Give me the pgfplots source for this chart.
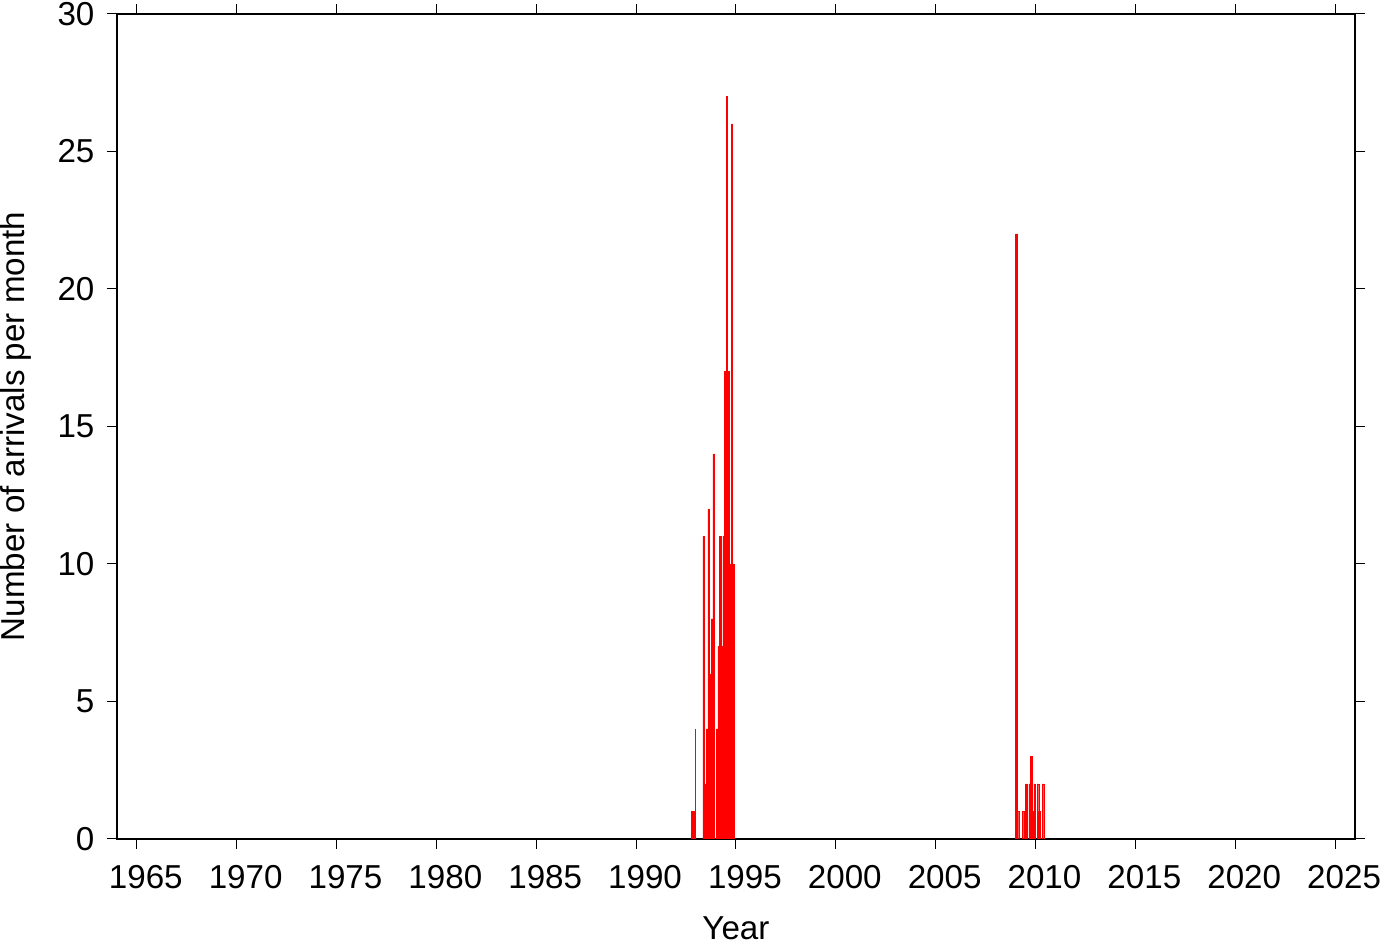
\documentclass[border=0pt]{standalone}
\usepackage{pgfplots}
\pgfplotsset{compat=1.18}
\usepackage{fontspec}
\setmainfont{Liberation Sans}
\begin{document}
\fontsize{16.6}{19}\selectfont
\begin{tikzpicture}
\begin{axis}[
  scale only axis,
  width=620pt, height=413pt,
  xmin=1964, xmax=2026, ymin=0, ymax=30,
  xtick={1965,1970,...,2025},
  ytick={0,5,...,30},
  /pgf/number format/assume math mode=true,
  xticklabel style={/pgf/number format/1000 sep={}, font=\fontsize{16.6}{19}\selectfont, yshift=-2.5pt, xshift=4.5pt},
  yticklabel style={font=\fontsize{16.6}{19}\selectfont, xshift=-0.5pt},
  tick align=outside,
  major tick length=5pt,
  tick style={line width=0.5pt, black},
  axis line style={line width=1pt},
  xlabel={Year}, ylabel={Number of arrivals per month},
  label style={font=\fontsize{16.6}{19}\selectfont},
  xlabel style={yshift=-2.8pt},
  ylabel style={yshift=2pt},
  ybar, bar width=0.07, bar shift=0pt,
]
\addplot[fill=red, draw=red, line width=0.2pt] coordinates {
(1992.7917,1) (1992.875,1)
(1993.375,11) (1993.4583,2) (1993.5417,4) (1993.625,12) (1993.7083,6) (1993.7917,8) (1993.875,14)
(1994.0417,4) (1994.125,7) (1994.2083,11) (1994.2917,7) (1994.375,11) (1994.4583,17) (1994.5417,27) (1994.625,17) (1994.7083,10) (1994.7917,26) (1994.875,10)
(2009.0417,22) (2009.125,1) (2009.375,1) (2009.4583,1) (2009.5417,2) (2009.7083,2) (2009.7917,3) (2009.875,1) (2009.9583,2)
(2010.125,2) (2010.2083,1) (2010.375,2)
};
\addplot[ybar, bar width=0.01, fill=black!70, draw=black!70, line width=0.2pt] coordinates {(1992.9583,4)};
\end{axis}
\pgfresetboundingbox
\path ([shift={(-58.5pt,-52.5pt)}]current axis.south west) rectangle ([shift={(13.5pt,7pt)}]current axis.north east);
\end{tikzpicture}
\end{document}
